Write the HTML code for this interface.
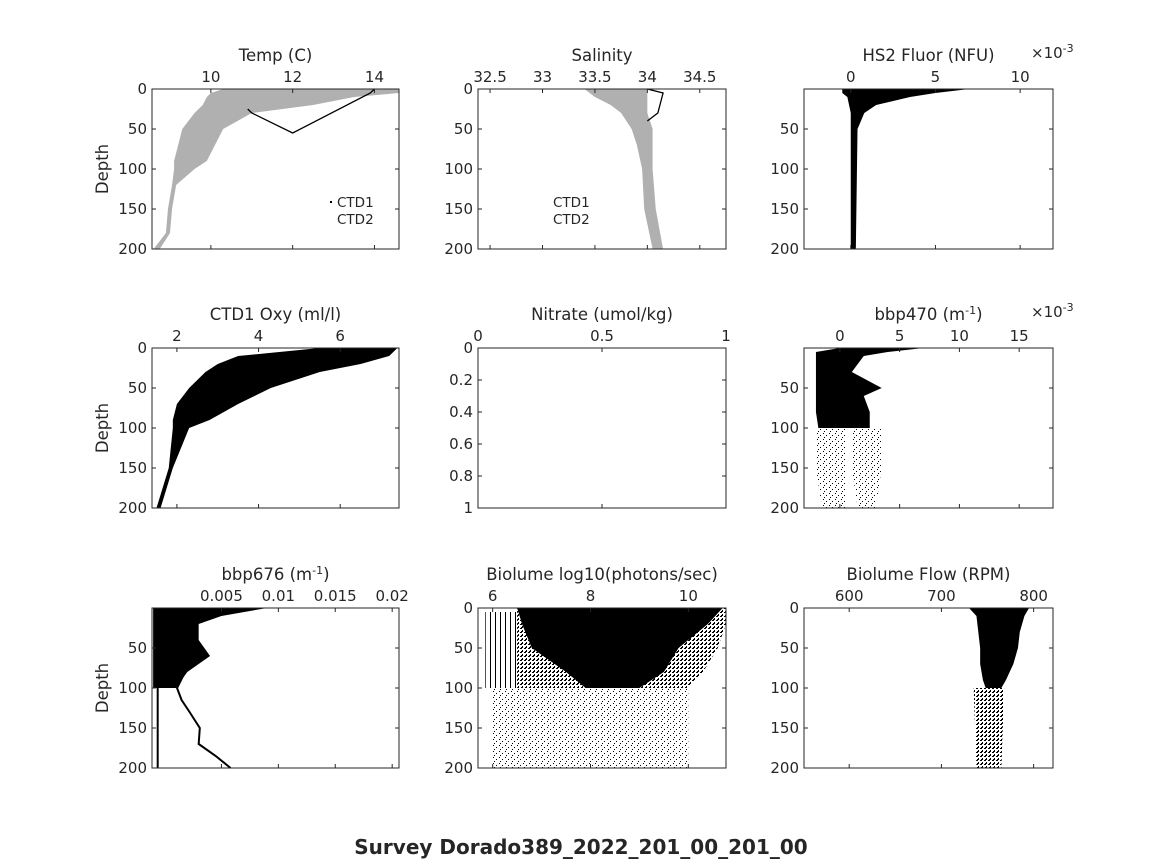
<!DOCTYPE html>
<html><head><meta charset="utf-8"><style>
body{margin:0;background:#fff;}
svg{display:block;font-family:"DejaVu Sans","Liberation Sans",sans-serif;}
text{fill:#262626;}
</style></head><body>
<svg id="fig" width="1164" height="864" viewBox="0 0 1164 864">
<defs>
<pattern id="sparse" width="6" height="6" patternUnits="userSpaceOnUse"><rect x="1" y="1" width="1" height="1" fill="#000"/><rect x="4" y="3" width="1" height="1" fill="#000"/><rect x="2" y="5" width="1" height="1" fill="#000"/></pattern>
<pattern id="medium" width="4" height="4" patternUnits="userSpaceOnUse"><rect x="0" y="0" width="2" height="1" fill="#000"/><rect x="2" y="2" width="1" height="2" fill="#000"/><rect x="1" y="3" width="1" height="1" fill="#000"/></pattern>
<pattern id="streaks" width="5" height="4" patternUnits="userSpaceOnUse"><rect x="0" y="0" width="1" height="4" fill="#000"/></pattern>
</defs>
<text x="581" y="854" text-anchor="middle" font-size="20" font-weight="bold">Survey Dorado389_2022_201_00_201_00</text>
</svg>
<script>
// ---- data arrays ----
const depthTicks=[0,50,100,150,200];
// Temp
const tempDepth=[0,5,10,20,30,50,70,90,100,120,150,180,200];
const tempLo=[10.3,10.0,9.9,9.8,9.6,9.3,9.2,9.1,9.1,9.05,8.95,8.9,8.6];
const tempHi=[14.6,14.6,13.5,12.5,11.0,10.3,10.1,9.9,9.6,9.15,9.05,9.0,8.75];
const tempLineX=[10.9,11.0,12.0,13.9,14.0];
const tempLineD=[25,30,55,5,0];
// Salinity
const salDepth=[0,10,20,30,50,70,100,150,200];
const salLo=[33.4,33.5,33.65,33.75,33.85,33.9,33.95,33.97,34.05];
const salHi=[34.0,34.0,34.0,34.0,34.05,34.05,34.05,34.08,34.15];
const salLineX=[34.0,34.15,34.1,34.0];
const salLineD=[0,5,30,40];
// HS2 fluor (x1e-3)
const flDepth=[0,5,10,20,30,50,200];
const flLo=[-0.5,-0.5,-0.2,-0.1,0,0,0];
const flHi=[7,5,3.5,1.5,0.8,0.4,0.3];
// Oxygen
const oxDepth=[0,10,20,30,50,70,90,100,150,200];
const oxLo=[5.5,3.5,3.0,2.7,2.3,2.0,1.9,1.9,1.8,1.5];
const oxHi=[7.4,7.2,6.5,5.5,4.3,3.5,2.8,2.3,1.9,1.6];
// bbp470 (x1e-3)
const b4Depth=[0,5,10,30,50,60,80,100];
const b4Lo=[0,-2,-2,-2,-2,-2,-2,-1.8];
const b4Hi=[7,4,2,1,3.5,2,2.5,2.5];
const b4sDepth=[100,150,200];
const b4sLoA=[-2,-2,-1.5];const b4sHiA=[0.5,0.5,0.5];
const b4sLoB=[1,1,1.5];const b4sHiB=[3.5,3.5,3];
// bbp676
const b6Depth=[0,10,20,40,60,80,100];
const b6Lo=[-0.001,-0.001,-0.001,-0.001,-0.001,-0.001,-0.001];
const b6Hi=[0.009,0.005,0.003,0.003,0.004,0.002,0.001];
const b6LineX=[0.0018,0.0011,0.0015,0.0022,0.0031,0.003,0.0045,0.0058];
const b6LineD=[80,100,115,130,150,170,185,200];
// Biolume
const blDepth=[0,20,50,80,100];
const blLo=[6.5,6.6,6.8,7.5,7.9];
const blHi=[10.7,10.4,9.8,9.5,9.0];
const blMLo=[6.5,6.5,6.5,6.5,6.5];
const blMHi=[10.9,10.9,10.6,10.3,10.0];
const blsDepth=[100,200];const blsLo=[6,6];const blsHi=[10,10];
// Flow
const fwDepth=[0,10,30,50,70,90,100];
const fwLo=[730,738,740,742,742,745,748];
const fwHi=[795,790,785,783,778,770,765];
const fwsDepth=[100,200];const fwsLo=[735,738];const fwsHi=[768,765];

const NS='http://www.w3.org/2000/svg';
const svg=document.getElementById('fig');
function mk(tag,attrs,parent){const e=document.createElementNS(NS,tag);for(const k in attrs)e.setAttribute(k,attrs[k]);(parent||svg).appendChild(e);return e;}

function panel(name,box,xmin,xmax,ymin,ymax){
  const g=mk('g',{});
  
  
  const sx=v=>box.x+(v-xmin)/(xmax-xmin)*box.w;
  const sy=v=>box.y+(v-ymin)/(ymax-ymin)*box.h;
  return {g,sx,sy,box};
}
function band(p,depth,lo,hi,fill,nm){
  let pts=[];
  for(let i=0;i<depth.length;i++)pts.push(Math.max(p.box.x,p.sx(lo[i]))+','+p.sy(depth[i]));
  for(let i=depth.length-1;i>=0;i--)pts.push(Math.min(p.box.x+p.box.w,p.sx(hi[i]))+','+p.sy(depth[i]));
  const e=mk('polygon',{points:pts.join(' '),fill:fill},p.g);
  
  
}
function line(p,xs,ds,col,nm,w){
  const pts=xs.map((x,i)=>p.sx(x)+','+p.sy(ds[i])).join(' ');
  const e=mk('polyline',{points:pts,fill:'none',stroke:col,'stroke-width':w||1.3},p.g);
  
  
}
function frame(p,title,xt,xtl,yt,ytl,ylab,exp){
  const b=p.box;
  const r=mk('rect',{x:b.x,y:b.y,width:b.w,height:b.h,fill:'none',stroke:'#262626','stroke-width':1},p.g);
  
  
  xt.forEach((v,i)=>{const x=p.sx(v);
    mk('line',{x1:x,y1:b.y,x2:x,y2:b.y+4,stroke:'#262626'},p.g);
    mk('line',{x1:x,y1:b.y+b.h,x2:x,y2:b.y+b.h-4,stroke:'#262626'},p.g);
    const t=mk('text',{x:x,y:b.y-7,'text-anchor':'middle','font-size':15},p.g);t.textContent=xtl[i];
    
    });
  yt.forEach((v,i)=>{const y=p.sy(v);
    mk('line',{x1:b.x,y1:y,x2:b.x+4,y2:y,stroke:'#262626'},p.g);
    mk('line',{x1:b.x+b.w,y1:y,x2:b.x+b.w-4,y2:y,stroke:'#262626'},p.g);
    const t=mk('text',{x:b.x-5,y:y+5,'text-anchor':'end','font-size':15},p.g);t.textContent=ytl[i];
    
    });
  const t=mk('text',{x:b.x+b.w/2,y:b.y-28,'text-anchor':'middle','font-size':16.5},p.g);t.innerHTML=title;
  
  
  if(ylab){const l=mk('text',{x:0,y:0,'text-anchor':'middle','font-size':16.5,transform:`translate(${b.x-44},${b.y+b.h/2}) rotate(-90)`},p.g);l.textContent='Depth';
    
    }
  if(exp){const e=mk('text',{x:b.x+b.w-22,y:b.y-31,'font-size':15},p.g);e.innerHTML='×10<tspan dy="-6" font-size="11">-3</tspan>';
    
    }
}
const C1=152,C2=478,C3=804,W1=247,W2=248,W3=249;
const R1=89,R2=348,R3=608,H=160;

// Temp
let p=panel('temp-panel',{x:C1,y:R1,w:W1,h:H},8.56,14.6,0,200);
band(p,tempDepth,tempLo,tempHi,'#b0b0b0','ctd2-temp-cloud');
line(p,tempLineX,tempLineD,'#000','ctd1-temp-line');
frame(p,'Temp (C)',[10,12,14],['10','12','14'],depthTicks,depthTicks,true);
{const l1=mk('rect',{x:330,y:201,width:2,height:2,fill:'#000'},p.g);
const a=mk('text',{x:337,y:207,'font-size':13.5},p.g);a.textContent='CTD1';
const b=mk('text',{x:337,y:224,'font-size':13.5},p.g);b.textContent='CTD2';}
// Salinity
p=panel('salinity-panel',{x:C2,y:R1,w:W2,h:H},32.385,34.75,0,200);
band(p,salDepth,salLo,salHi,'#b0b0b0','ctd2-salinity-cloud');
line(p,salLineX,salLineD,'#000','ctd1-salinity-line');
frame(p,'Salinity',[32.5,33,33.5,34,34.5],['32.5','33','33.5','34','34.5'],depthTicks,depthTicks,false);
{const a=mk('text',{x:553,y:207,'font-size':13.5},p.g);a.textContent='CTD1';
const b=mk('text',{x:553,y:224,'font-size':13.5},p.g);b.textContent='CTD2';}
// HS2
p=panel('hs2-fluor-panel',{x:C3,y:R1,w:W3,h:H},-2.76,11.94,0,200);
band(p,flDepth,flLo,flHi,'#000','fluor-cloud');
frame(p,'HS2 Fluor (NFU)',[0,5,10],['0','5','10'],[50,100,150,200],['50','100','150','200'],false,true);
// Oxygen
p=panel('oxygen-panel',{x:C1,y:R2,w:W1,h:H},1.39,7.44,0,200);
band(p,oxDepth,oxLo,oxHi,'#000','oxygen-cloud');
frame(p,'CTD1 Oxy (ml/l)',[2,4,6],['2','4','6'],depthTicks,depthTicks,true);
// Nitrate
p=panel('nitrate-panel',{x:C2,y:R2,w:W2,h:H},0,1,0,1);
frame(p,'Nitrate (umol/kg)',[0,0.5,1],['0','0.5','1'],[0,0.2,0.4,0.6,0.8,1],['0','0.2','0.4','0.6','0.8','1'],false);
// bbp470
p=panel('bbp470-panel',{x:C3,y:R2,w:W3,h:H},-3,17.83,0,200);
band(p,b4sDepth,b4sLoA,b4sHiA,'url(#sparse)','bbp470-deep-cloud-a');
band(p,b4sDepth,b4sLoB,b4sHiB,'url(#sparse)','bbp470-deep-cloud-b');
band(p,b4Depth,b4Lo,b4Hi,'#000','bbp470-cloud');
frame(p,'bbp470 (m<tspan dy="-6" font-size="11">-1</tspan><tspan dy="6">)</tspan>',[0,5,10,15],['0','5','10','15'],[50,100,150,200],['50','100','150','200'],false,true);
// bbp676
p=panel('bbp676-panel',{x:C1,y:R3,w:W1,h:H},-0.0011,0.0206,0,200);
band(p,b6Depth,b6Lo,b6Hi,'#000','bbp676-cloud');
line(p,[-0.0006,-0.0006],[0,200],'#000','bbp676-edge-line',2);
line(p,b6LineX,b6LineD,'#000','bbp676-profile-line',2);
frame(p,'bbp676 (m<tspan dy="-6" font-size="11">-1</tspan><tspan dy="6">)</tspan>',[0.005,0.01,0.015,0.02],['0.005','0.01','0.015','0.02'],[50,100,150,200],['50','100','150','200'],true);
// Biolume
p=panel('biolume-panel',{x:C2,y:R3,w:W2,h:H},5.70,10.77,0,200);
band(p,blsDepth,blsLo,blsHi,'url(#sparse)','biolume-deep-cloud');
band(p,[5,100],[5.85,5.85],[6.5,6.5],'url(#streaks)','biolume-streaks');
band(p,blDepth,blMLo,blMHi,'url(#medium)','biolume-halo');
band(p,blDepth,blLo,blHi,'#000','biolume-cloud');
frame(p,'Biolume log10(photons/sec)',[6,8,10],['6','8','10'],depthTicks,depthTicks,false);
// Flow
p=panel('flow-panel',{x:C3,y:R3,w:W3,h:H},551,821,0,200);
band(p,fwsDepth,fwsLo,fwsHi,'url(#medium)','flow-deep-cloud');
band(p,fwDepth,fwLo,fwHi,'#000','flow-cloud');
frame(p,'Biolume Flow (RPM)',[600,700,800],['600','700','800'],depthTicks,depthTicks,false);
</script>
</body></html>
